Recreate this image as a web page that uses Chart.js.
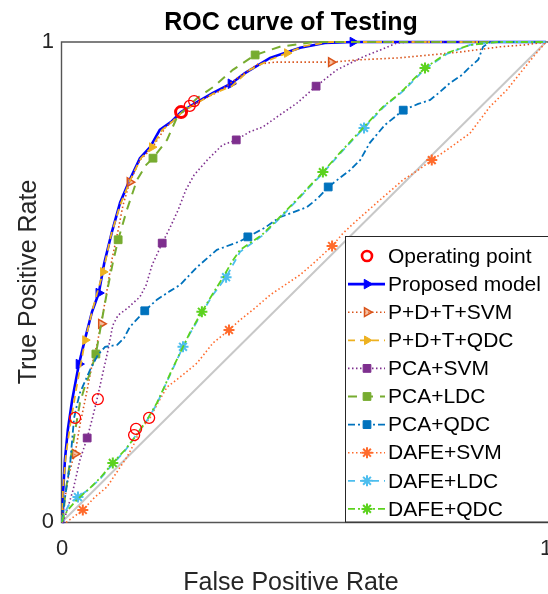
<!DOCTYPE html>
<html><head><meta charset="utf-8">
<script src="https://cdn.jsdelivr.net/npm/chart.js@4.4.1/dist/chart.umd.min.js"></script>
<style>html,body{margin:0;padding:0;background:#fff;}canvas{display:block;}</style>
</head><body>
<canvas id="c" width="548" height="594"></canvas>
<script>
const FONT = '"Liberation Sans", Arial, Helvetica, sans-serif';
// ---------------- DATA ----------------
const chartTitle = 'ROC curve of Testing';
const xAxisTitle = 'False Positive Rate';
const yAxisTitle = 'True Positive Rate';
const xTickValues = [0, 1];
const yTickValues = [0, 1];

const diagFPR = [0, 1];
const diagTPR = [0, 1];

const propFPR = [0,0.002,0.006,0.012,0.021,0.035,0.048,0.062,0.076,0.087,0.103,0.120,0.140,0.161,0.182,0.202,0.227,0.246,0.279,0.312,0.349,0.378,0.430,0.492,0.543,0.601,1];
const propTPR = [0,0.056,0.129,0.192,0.254,0.329,0.383,0.438,0.477,0.538,0.604,0.665,0.713,0.758,0.781,0.817,0.835,0.854,0.875,0.894,0.913,0.935,0.967,0.988,0.998,1,1];
const propMarks = [5,8,20,25];

const pdtSvmFPR = [0,0.004,0.012,0.021,0.027,0.037,0.050,0.062,0.072,0.081,0.093,0.103,0.116,0.126,0.140,0.161,0.186,0.213,0.246,0.285,0.326,0.368,0.405,0.440,0.492,0.556,0.616,0.698,0.760,0.822,0.905,0.957,1];
const pdtSvmTPR = [0,0.035,0.088,0.125,0.142,0.202,0.265,0.327,0.369,0.413,0.483,0.546,0.608,0.660,0.708,0.754,0.779,0.821,0.852,0.877,0.898,0.929,0.954,0.958,0.958,0.958,0.963,0.967,0.973,0.979,0.990,0.994,1];
const pdtSvmMarks = [4,9,14,25];

const pdtQdcFPR = [0,0.002,0.008,0.017,0.029,0.048,0.064,0.085,0.101,0.120,0.140,0.163,0.186,0.207,0.229,0.248,0.279,0.312,0.351,0.388,0.430,0.465,0.502,0.554,1];
const pdtQdcTPR = [0,0.067,0.140,0.202,0.275,0.379,0.446,0.521,0.596,0.660,0.710,0.758,0.781,0.817,0.835,0.854,0.873,0.892,0.908,0.942,0.963,0.977,0.992,1,1];
const pdtQdcMarks = [5,7,12,21];

const pcaSvmFPR = [0,0.006,0.023,0.037,0.052,0.062,0.072,0.085,0.095,0.105,0.116,0.136,0.161,0.174,0.186,0.207,0.223,0.240,0.256,0.273,0.300,0.331,0.360,0.388,0.415,0.450,0.486,0.525,0.568,0.622,0.657,0.692,0.719,1];
const pcaSvmTPR = [0,0.010,0.067,0.129,0.175,0.213,0.254,0.313,0.358,0.410,0.431,0.446,0.469,0.494,0.535,0.581,0.613,0.650,0.692,0.723,0.754,0.785,0.796,0.813,0.823,0.848,0.873,0.908,0.942,0.969,0.983,0.998,1,1];
const pcaSvmMarks = [4,15,22,27];

const pcaLdcFPR = [0,0.004,0.006,0.014,0.023,0.031,0.037,0.048,0.058,0.070,0.085,0.095,0.105,0.116,0.134,0.155,0.174,0.188,0.217,0.238,0.279,0.312,0.353,0.399,0.450,0.519,1];
const pcaLdcTPR = [0,0.025,0.052,0.108,0.165,0.213,0.248,0.285,0.310,0.350,0.435,0.490,0.540,0.588,0.650,0.713,0.744,0.758,0.796,0.844,0.883,0.906,0.942,0.973,0.990,1,1];
const pcaLdcMarks = [9,13,17,23];

const pcaQdcFPR = [0,0.004,0.010,0.017,0.021,0.025,0.031,0.037,0.058,0.074,0.089,0.114,0.128,0.140,0.171,0.196,0.223,0.244,0.279,0.320,0.368,0.384,0.419,0.450,0.506,0.529,0.550,0.595,0.616,0.636,0.667,0.705,0.736,0.760,0.781,0.802,0.826,0.843,0.860,0.870,0.884,1];
const pcaQdcTPR = [0,0.035,0.077,0.123,0.171,0.217,0.244,0.269,0.317,0.348,0.365,0.369,0.383,0.406,0.440,0.463,0.481,0.494,0.531,0.567,0.585,0.594,0.613,0.635,0.656,0.675,0.698,0.733,0.754,0.790,0.827,0.858,0.871,0.879,0.896,0.915,0.931,0.948,0.963,0.990,1,1];
const pcaQdcMarks = [14,21,26,31];

const dafeSvmFPR = [0,0.010,0.027,0.043,0.068,0.093,0.116,0.134,0.149,0.161,0.182,0.198,0.217,0.244,0.279,0.312,0.345,0.368,0.399,0.430,0.461,0.492,0.523,0.558,0.581,0.610,0.657,0.705,0.736,0.764,0.795,0.843,0.884,0.919,0.952,0.977,1];
const dafeSvmTPR = [0,0,0.013,0.025,0.052,0.073,0.108,0.135,0.163,0.192,0.217,0.248,0.281,0.302,0.331,0.373,0.400,0.421,0.446,0.473,0.494,0.515,0.542,0.575,0.602,0.629,0.671,0.713,0.733,0.754,0.775,0.810,0.865,0.900,0.942,0.973,1];
const dafeSvmMarks = [3,16,23,29];

const dafeLdcFPR = [0,0.006,0.017,0.033,0.054,0.079,0.105,0.130,0.153,0.178,0.196,0.227,0.250,0.264,0.289,0.310,0.339,0.368,0.413,0.450,0.492,0.539,0.574,0.624,0.663,0.705,0.750,0.795,0.843,0.899,1];
const dafeLdcTPR = [0,0.021,0.040,0.052,0.067,0.090,0.121,0.148,0.181,0.215,0.246,0.315,0.365,0.392,0.435,0.471,0.510,0.563,0.596,0.633,0.677,0.727,0.767,0.821,0.863,0.898,0.944,0.975,0.994,1,1];
const dafeLdcMarks = [3,12,16,23];

const dafeQdcFPR = [0,0.004,0.012,0.025,0.037,0.058,0.079,0.105,0.130,0.151,0.178,0.196,0.213,0.227,0.250,0.264,0.289,0.310,0.333,0.351,0.368,0.388,0.413,0.450,0.492,0.539,0.574,0.599,0.622,0.647,0.663,0.688,0.705,0.725,0.750,0.775,0.795,0.843,0.899,1];
const dafeQdcTPR = [0,0.013,0.025,0.040,0.052,0.071,0.092,0.123,0.150,0.177,0.217,0.248,0.285,0.317,0.365,0.394,0.438,0.473,0.510,0.542,0.567,0.581,0.598,0.635,0.679,0.729,0.769,0.796,0.821,0.848,0.865,0.885,0.900,0.921,0.946,0.963,0.977,0.994,1,1];
const dafeQdcMarks = [7,16,25,34];

const opFPR = [0.246,0.264,0.273,0.027,0.074,0.180,0.153,0.149];
const opTPR = [0.854,0.867,0.877,0.217,0.256,0.217,0.194,0.181];

const legendNames = ['Operating point','Proposed model','P+D+T+SVM','P+D+T+QDC','PCA+SVM','PCA+LDC','PCA+QDC','DAFE+SVM','DAFE+LDC','DAFE+QDC'];

// ---------------- STYLES ----------------
const DOT = [1.5, 2.5], DASH = [7, 5], LDASH = [9, 7], DASHDOT = [7, 3, 2, 3];
const styles = [
  {color:'#0000FF', dash:[], w:2.6, ps:'triangle', r:5.5, fill:'#0000FF', mbw:1},
  {color:'#D95319', dash:DOT, w:1.6, ps:'triangle', r:5, fill:'rgba(240,150,100,0.6)', mbw:1.5},
  {color:'#EDB120', dash:DASH, w:1.8, ps:'triangle', r:5, fill:'#EDB120', mbw:1},
  {color:'#7E2F8E', dash:DOT, w:1.6, ps:'rect', r:5.5, fill:'#7E2F8E', mbw:1},
  {color:'#77AC30', dash:LDASH, w:2, ps:'rect', r:5.5, fill:'#77AC30', mbw:1},
  {color:'#0072BD', dash:DASHDOT, w:1.8, ps:'rect', r:5.5, fill:'#0072BD', mbw:1},
  {color:'#FF6A2B', dash:DOT, w:1.6, ps:'star', r:5.5, fill:'#FF6A2B', mbw:2},
  {color:'#4DBEEE', dash:DASH, w:1.8, ps:'star', r:5.5, fill:'#4DBEEE', mbw:2},
  {color:'#5CD21E', dash:DASHDOT, w:1.8, ps:'star', r:5.5, fill:'#5CD21E', mbw:2}
];
const opStyle = {color:'#FF0000', r:5.5};

const seriesX = [propFPR,pdtSvmFPR,pdtQdcFPR,pcaSvmFPR,pcaLdcFPR,pcaQdcFPR,dafeSvmFPR,dafeLdcFPR,dafeQdcFPR];
const seriesY = [propTPR,pdtSvmTPR,pdtQdcTPR,pcaSvmTPR,pcaLdcTPR,pcaQdcTPR,dafeSvmTPR,dafeLdcTPR,dafeQdcTPR];
const seriesM = [propMarks,pdtSvmMarks,pdtQdcMarks,pcaSvmMarks,pcaLdcMarks,pcaQdcMarks,dafeSvmMarks,dafeLdcMarks,dafeQdcMarks];

const pts = (xs, ys) => xs.map((x, i) => ({x, y: ys[i]}));

const datasets = [];
datasets.push({
  label:'diag', data: pts(diagFPR, diagTPR), borderColor:'#C8C8C8', borderWidth:2,
  pointRadius:0, order:100, clip:false
});
seriesX.forEach((xs, i) => {
  const st = styles[i];
  const mk = seriesM[i];
  datasets.push({
    label: legendNames[i+1], data: pts(xs, seriesY[i]),
    borderColor: st.color, borderWidth: st.w, borderDash: st.dash,
    pointStyle: st.ps, rotation: st.ps === 'triangle' ? 90 : 0,
    pointRadius: c => mk.includes(c.dataIndex) ? st.r : 0,
    pointBackgroundColor: st.fill, pointBorderColor: st.color, pointBorderWidth: st.mbw,
    order: 50 - i, clip:false, tension:0
  });
});
datasets.push({
  label:'Operating point', data: pts(opFPR, opTPR), showLine:false,
  pointStyle:'circle', pointRadius: opStyle.r, pointBackgroundColor:'rgba(0,0,0,0)',
  pointBorderColor: opStyle.color, pointBorderWidth: c => c.dataIndex === 0 ? 3 : 1.3,
  order: 0, clip:false
});

function drawMarker(ctx, ps, r, fill, stroke, bw, x, y) {
  ctx.save(); ctx.setLineDash([]);
  ctx.fillStyle = fill; ctx.strokeStyle = stroke; ctx.lineWidth = bw;
  ctx.beginPath();
  if (ps === 'triangle') {
    ctx.moveTo(x + r, y); ctx.lineTo(x - r*0.5, y - r*0.866); ctx.lineTo(x - r*0.5, y + r*0.866); ctx.closePath();
    ctx.fill(); ctx.stroke();
  } else if (ps === 'rect') {
    const s = r * Math.SQRT1_2; ctx.rect(x - s, y - s, 2*s, 2*s); ctx.fill(); ctx.stroke();
  } else if (ps === 'star') {
    for (let k = 0; k < 4; k++) {
      const a = k * Math.PI / 4;
      ctx.moveTo(x - Math.cos(a)*r, y - Math.sin(a)*r); ctx.lineTo(x + Math.cos(a)*r, y + Math.sin(a)*r);
    }
    ctx.stroke();
  } else if (ps === 'circle') {
    ctx.arc(x, y, r, 0, Math.PI*2); ctx.stroke();
  }
  ctx.restore();
}

const deco = {
  id: 'deco',
  beforeDatasetsDraw(chart) {
    const {ctx, chartArea: a} = chart;
    ctx.save();
    ctx.strokeStyle = '#555555'; ctx.lineWidth = 1.4;
    ctx.beginPath();
    ctx.moveTo(548, a.top); ctx.lineTo(a.left - 0.5, a.top); ctx.lineTo(a.left - 0.5, a.bottom + 0.5); ctx.lineTo(548, a.bottom + 0.5);
    ctx.stroke();
    ctx.restore();
  },
  afterDatasetsDraw(chart) {
    const ctx = chart.ctx;
    ctx.save();
    const bx = 345.5, by = 236.5, bw = 210, bh = 522 - 236.5;
    ctx.fillStyle = '#FFFFFF'; ctx.fillRect(bx, by, bw, bh);
    ctx.strokeStyle = '#262626'; ctx.lineWidth = 1; ctx.strokeRect(bx, by, bw, bh);
    ctx.font = '21px ' + FONT; ctx.fillStyle = '#000000'; ctx.textBaseline = 'middle'; ctx.textAlign = 'left';
    legendNames.forEach((name, i) => {
      const y = 256 + i * 28.1;
      if (i === 0) {
        drawMarker(ctx, 'circle', 5, 'rgba(0,0,0,0)', opStyle.color, 2.6, 367, y);
      } else {
        const st = styles[i-1];
        ctx.save();
        ctx.strokeStyle = st.color; ctx.lineWidth = st.w; ctx.setLineDash(st.dash);
        ctx.beginPath(); ctx.moveTo(348, y); ctx.lineTo(385, y); ctx.stroke();
        ctx.restore();
        drawMarker(ctx, st.ps, st.r, st.fill, st.color, st.mbw, 367, y);
      }
      ctx.fillStyle = '#000000';
      ctx.fillText(name, 388, y + 1);
    });
    ctx.restore();
  },
  afterDraw(chart) {
    const ctx = chart.ctx;
    ctx.save();
    ctx.fillStyle = '#000000'; ctx.textAlign = 'center'; ctx.textBaseline = 'alphabetic';
    ctx.font = 'bold 25px ' + FONT;
    ctx.fillText(chartTitle, 291, 30);
    ctx.fillStyle = '#262626';
    ctx.font = '25px ' + FONT;
    ctx.fillText(xAxisTitle, 291, 590);
    ctx.translate(36, 282); ctx.rotate(-Math.PI/2);
    ctx.fillText(yAxisTitle, 0, 0);
    ctx.restore();
  }
};

new Chart(document.getElementById('c'), {
  type: 'line',
  data: { datasets },
  options: {
    responsive: false, animation: false, devicePixelRatio: 1,
    layout: { autoPadding: false, padding: { top: 42, right: 2, left: 0, bottom: 0 } },
    plugins: { legend: { display: false }, tooltip: { enabled: false }, title: { display: false } },
    scales: {
      x: {
        type: 'linear', min: 0, max: 1,
        afterBuildTicks: s => { s.ticks = xTickValues.map(v => ({value: v})); },
        ticks: { color: '#262626', font: { family: FONT, size: 22 }, padding: 14, maxRotation: 0, autoSkip: false },
        grid: { display: false, drawTicks: false }, border: { display: false },
        afterFit: s => { s.height = 72; s.paddingLeft = 0; s.paddingRight = 0; }
      },
      y: {
        type: 'linear', min: 0, max: 1,
        afterBuildTicks: s => { s.ticks = yTickValues.map(v => ({value: v})); },
        ticks: { color: '#262626', font: { family: FONT, size: 22 }, padding: 8, autoSkip: false },
        grid: { display: false, drawTicks: false }, border: { display: false },
        afterFit: s => { s.width = 62; s.paddingTop = 0; s.paddingBottom = 0; }
      }
    }
  },
  plugins: [deco]
});
</script>
</body></html>
